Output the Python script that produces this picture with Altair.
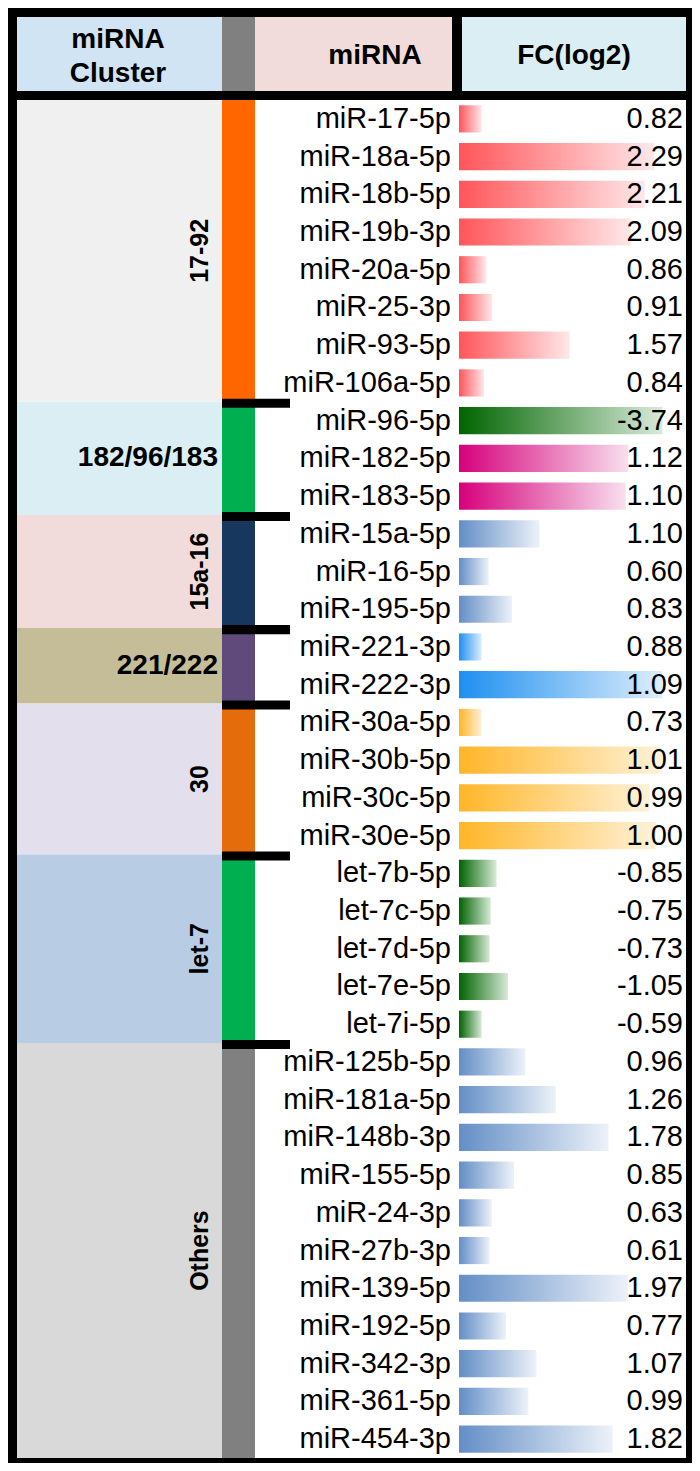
import altair as alt
import pandas as pd

# ---------------- data ----------------
clusters = ["17-92", "182/96/183", "15a-16", "221/222", "30", "let-7", "Others"]
cluster_sizes = [8, 3, 3, 2, 4, 5, 11]
cluster_bg = ["#f0f0f0", "#daeef3", "#f2dcdb", "#c4bd97", "#e4dfec", "#b8cce4", "#d9d9d9"]
cluster_strip = ["#ff6600", "#00b050", "#17375e", "#604a7b", "#e46c0a", "#00b050", "#808080"]
cluster_rotated = [True, False, True, False, True, True, True]

mirnas = [
    "miR-17-5p", "miR-18a-5p", "miR-18b-5p", "miR-19b-3p", "miR-20a-5p", "miR-25-3p", "miR-93-5p", "miR-106a-5p",
    "miR-96-5p", "miR-182-5p", "miR-183-5p",
    "miR-15a-5p", "miR-16-5p", "miR-195-5p",
    "miR-221-3p", "miR-222-3p",
    "miR-30a-5p", "miR-30b-5p", "miR-30c-5p", "miR-30e-5p",
    "let-7b-5p", "let-7c-5p", "let-7d-5p", "let-7e-5p", "let-7i-5p",
    "miR-125b-5p", "miR-181a-5p", "miR-148b-3p", "miR-155-5p", "miR-24-3p", "miR-27b-3p",
    "miR-139-5p", "miR-192-5p", "miR-342-3p", "miR-361-5p", "miR-454-3p",
]
fc_log2 = [
    0.82, 2.29, 2.21, 2.09, 0.86, 0.91, 1.57, 0.84,
    -3.74, 1.12, 1.10,
    1.10, 0.60, 0.83,
    0.88, 1.09,
    0.73, 1.01, 0.99, 1.00,
    -0.85, -0.75, -0.73, -1.05, -0.59,
    0.96, 1.26, 1.78, 0.85, 0.63, 0.61, 1.97, 0.77, 1.07, 0.99, 1.82,
]
bar_group = [
    "red", "red", "red", "red", "red", "red", "red", "red",
    "green", "pink", "pink",
    "blue", "blue", "blue",
    "sky", "sky",
    "orange", "orange", "orange", "orange",
    "green", "green", "green", "green", "green",
    "blue", "blue", "blue", "blue", "blue", "blue", "blue", "blue", "blue", "blue", "blue",
]

# data-bar rule settings (value range mapped onto 10%..90% of the cell)
bar_groups = ["red", "green", "pink", "blue", "sky", "orange"]
bar_scale_lo = [0.82, 0.59, 0.00, 0.53, 0.88, 0.73]
bar_scale_hi = [2.36, 3.74, 1.38, 2.31, 1.09, 1.01]
bar_color_start = ["#ff555a", "#006400", "#d6007b", "#638ec6", "#1e8ff0", "#ffb628"]
bar_color_end = ["#ffe8e9", "#d8ead8", "#f8e0ee", "#edf2f9", "#ddeefd", "#fff2d9"]

header_texts = ["miRNA", "Cluster", "miRNA", "FC(log2)"]

# ---------------- layout (pixels) ----------------
W, H_HEAD, H_BODY = 684, 92, 1363
BODY_ROWS_PX = 1358
FONT = "Liberation Sans"
C_LEFT, C_STRIP, C_LABEL, C_GAP, C_FC, C_RIGHT = 9, 214, 247, 444, 454, 678
BAR_X0, BAR_W = 451, 226

# ---------------- tables ----------------
row_cluster = []
for c, n in zip(clusters, cluster_sizes):
    row_cluster += [c] * n
lo_map = dict(zip(bar_groups, bar_scale_lo))
hi_map = dict(zip(bar_groups, bar_scale_hi))
rows = pd.DataFrame({
    "mirna": mirnas,
    "fc": fc_log2,
    "grp": bar_group,
    "cluster": row_cluster,
    "row": list(range(len(mirnas))),
})
rows["lo"] = rows["grp"].map(lo_map)
rows["hi"] = rows["grp"].map(hi_map)
rows["label"] = [f"{v:.2f}" for v in fc_log2]

starts, ends = [], []
s = 0
for n in cluster_sizes:
    starts.append(s)
    ends.append(s + n)
    s += n
clus = pd.DataFrame({
    "cluster": clusters, "start": starts, "end": ends,
    "bg": cluster_bg, "strip": cluster_strip, "rot": cluster_rotated,
})
clus["mid"] = (clus["start"] + clus["end"]) / 2
bounds = pd.DataFrame({"b": ends[:-1]})

xs = alt.Scale(domain=[0, W], nice=False, zero=False)
ys = alt.Scale(domain=[0, len(mirnas)], range=[0, BODY_ROWS_PX], nice=False, zero=False)

def X(f):
    return alt.X(f, type="quantitative", scale=xs, axis=None)

def Y(f):
    return alt.Y(f, type="quantitative", scale=ys, axis=None)

# ---------------- body ----------------
base_c = alt.Chart(clus)
white = base_c.transform_aggregate(s0="min(start)", e0="max(end)").transform_calculate(
    xa=str(C_LEFT), xb=str(C_RIGHT)
).mark_rect(color="white").encode(x=X("xa"), x2="xb:Q", y=Y("s0"), y2="e0:Q")

bg = base_c.transform_calculate(xa=str(C_LEFT), xb=str(C_STRIP)).mark_rect().encode(
    x=X("xa"), x2="xb:Q", y=Y("start"), y2="end:Q", color=alt.Color("bg:N", scale=None)
)
strip = base_c.transform_calculate(xa=str(C_STRIP), xb=str(C_LABEL)).mark_rect().encode(
    x=X("xa"), x2="xb:Q", y=Y("start"), y2="end:Q", color=alt.Color("strip:N", scale=None)
)
ticks = alt.Chart(bounds).transform_calculate(
    xa=str(C_STRIP), xb=str(C_STRIP + 68), ya="datum.b - 0.08", yb="datum.b + 0.16"
).mark_rect(color="black").encode(x=X("xa"), x2="xb:Q", y=Y("ya"), y2="yb:Q")

lab_rot = base_c.transform_filter("datum.rot").transform_calculate(xa="192").mark_text(
    font=FONT, fontSize=25, fontWeight="bold", angle=270, align="center", baseline="middle", color="black"
).encode(x=X("xa"), y=Y("mid"), text="cluster:N")
lab_hor = base_c.transform_filter("!datum.rot").transform_calculate(xa="210").mark_text(
    font=FONT, fontSize=28, fontWeight="bold", align="right", baseline="middle", color="black"
).encode(x=X("xa"), y=Y("mid"), text="cluster:N")

base_r = alt.Chart(rows).transform_calculate(
    yc="datum.row + 0.5",
    ya="datum.row + 0.14",
    yb="datum.row + 0.86",
    frac="0.1 + 0.8 * (abs(datum.fc) - datum.lo) / (datum.hi - datum.lo)",
    bx0=str(BAR_X0),
    bx1=f"{BAR_X0} + datum.frac * {BAR_W}",
)

bars = []
for g, c0, c1 in zip(bar_groups, bar_color_start, bar_color_end):
    grad = alt.Gradient(
        gradient="linear",
        stops=[alt.GradientStop(color=c0, offset=0), alt.GradientStop(color=c1, offset=1)],
        x1=0, x2=1, y1=0, y2=0,
    )
    bars.append(
        base_r.transform_filter(alt.datum.grp == g).mark_rect(color=grad).encode(
            x=X("bx0"), x2="bx1:Q", y=Y("ya"), y2="yb:Q"
        )
    )

names = base_r.transform_calculate(xa=str(C_GAP - 1)).mark_text(
    font=FONT, fontSize=29, align="right", baseline="middle", color="black"
).encode(x=X("xa"), y=Y("yc"), text="mirna:N")
vals = base_r.transform_calculate(xa=str(C_RIGHT - 3)).mark_text(
    font=FONT, fontSize=29, align="right", baseline="middle", color="black"
).encode(x=X("xa"), y=Y("yc"), text="label:N")

body = alt.layer(white, bg, strip, *bars, ticks, lab_rot, lab_hor, names, vals).properties(
    width=W, height=H_BODY
)

# ---------------- header ----------------
hs = alt.Scale(domain=[0, H_HEAD], range=[0, H_HEAD], nice=False, zero=False)
head_cells = pd.DataFrame({
    "xa": [C_LEFT, C_STRIP, C_LABEL, C_FC],
    "xb": [C_STRIP, C_LABEL, C_GAP, C_RIGHT],
    "fill": ["#d0e4f4", "#808080", "#f2dcdb", "#daeef3"],
})
head_text = pd.DataFrame({
    "t": header_texts,
    "x": [110, 110, 367, 566],
    "y": [32, 66, 48, 48],
})
hc = alt.Chart(head_cells).transform_calculate(ya="9", yb="83").mark_rect().encode(
    x=X("xa"), x2="xb:Q",
    y=alt.Y("ya:Q", scale=hs, axis=None), y2="yb:Q",
    color=alt.Color("fill:N", scale=None),
)
ht = alt.Chart(head_text).mark_text(
    font=FONT, fontSize=28, fontWeight="bold", align="center", baseline="middle", color="black"
).encode(x=X("x"), y=alt.Y("y:Q", scale=hs, axis=None), text="t:N")
header = alt.layer(hc, ht).properties(width=W, height=H_HEAD)

chart = alt.vconcat(header, body, spacing=0).resolve_scale(x="independent", y="independent").properties(
    padding=0, background="#000000"
).configure_view(stroke=None)

chart.save("out.html", embed_options={"renderer": "svg", "actions": False})
